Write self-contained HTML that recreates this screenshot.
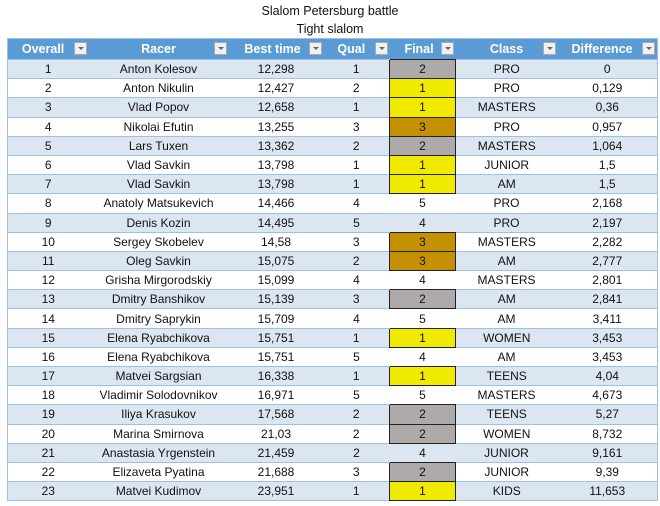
<!DOCTYPE html>
<html><head><meta charset="utf-8"><style>
body{margin:0;width:660px;height:506px;background:#fff;font-family:"Liberation Sans",sans-serif;font-size:12px;color:#111;position:relative;overflow:hidden}
.t{position:absolute;left:0;width:660px;text-align:center;font-size:12.5px}
table{position:absolute;left:7px;top:38px;border-collapse:collapse;table-layout:fixed;width:650px;border:1px solid #9bc2e6}
td,th{padding:0;text-align:center;white-space:nowrap;overflow:hidden}
th{background:#5b9bd5;color:#fff;font-weight:bold;height:20px;font-size:12.5px;position:relative}
th span.d{position:absolute;right:2px;top:3px;width:13px;height:13px;background:#f0f0f0;border:1px solid #aaa;box-sizing:border-box}
th span.d:after{content:"";position:absolute;left:3px;top:4px;border-left:3px solid transparent;border-right:3px solid transparent;border-top:3px solid #666}
td{height:19.2px;line-height:18px;border-top:1px solid #9bc2e6;box-sizing:border-box}
tr:nth-child(even) td{background:#dce6f1}
td.y{background:#f0e900!important;border:1px solid #222}
td.g{background:#aeaaaa!important;border:1px solid #222}
td.b{background:#c49102!important;border:1px solid #222}
</style></head><body>
<div class="t" style="top:4px">Slalom Petersburg battle</div>
<div class="t" style="top:22px">Tight slalom</div>
<table>
<colgroup><col style="width:81px"><col style="width:140px"><col style="width:95px"><col style="width:66px"><col style="width:66px"><col style="width:102px"><col style="width:100px"></colgroup>
<tr><th>Overall&nbsp;&nbsp;&nbsp;<span class="d"></span></th><th>Racer<span class="d"></span></th><th>Best time&nbsp;&nbsp;<span class="d"></span></th><th>Qual&nbsp;&nbsp;&nbsp;<span class="d"></span></th><th>Final&nbsp;&nbsp;<span class="d"></span></th><th>Class<span class="d"></span></th><th>Difference&nbsp;&nbsp;&nbsp;<span class="d"></span></th></tr>
<tr><td>1</td><td>Anton Kolesov</td><td>12,298</td><td>1</td><td class="g">2</td><td>PRO</td><td>0</td></tr>
<tr><td>2</td><td>Anton Nikulin</td><td>12,427</td><td>2</td><td class="y">1</td><td>PRO</td><td>0,129</td></tr>
<tr><td>3</td><td>Vlad Popov</td><td>12,658</td><td>1</td><td class="y">1</td><td>MASTERS</td><td>0,36</td></tr>
<tr><td>4</td><td>Nikolai Efutin</td><td>13,255</td><td>3</td><td class="b">3</td><td>PRO</td><td>0,957</td></tr>
<tr><td>5</td><td>Lars Tuxen</td><td>13,362</td><td>2</td><td class="g">2</td><td>MASTERS</td><td>1,064</td></tr>
<tr><td>6</td><td>Vlad Savkin</td><td>13,798</td><td>1</td><td class="y">1</td><td>JUNIOR</td><td>1,5</td></tr>
<tr><td>7</td><td>Vlad Savkin</td><td>13,798</td><td>1</td><td class="y">1</td><td>AM</td><td>1,5</td></tr>
<tr><td>8</td><td>Anatoly Matsukevich</td><td>14,466</td><td>4</td><td>5</td><td>PRO</td><td>2,168</td></tr>
<tr><td>9</td><td>Denis Kozin</td><td>14,495</td><td>5</td><td>4</td><td>PRO</td><td>2,197</td></tr>
<tr><td>10</td><td>Sergey Skobelev</td><td>14,58</td><td>3</td><td class="b">3</td><td>MASTERS</td><td>2,282</td></tr>
<tr><td>11</td><td>Oleg Savkin</td><td>15,075</td><td>2</td><td class="b">3</td><td>AM</td><td>2,777</td></tr>
<tr><td>12</td><td>Grisha Mirgorodskiy</td><td>15,099</td><td>4</td><td>4</td><td>MASTERS</td><td>2,801</td></tr>
<tr><td>13</td><td>Dmitry Banshikov</td><td>15,139</td><td>3</td><td class="g">2</td><td>AM</td><td>2,841</td></tr>
<tr><td>14</td><td>Dmitry Saprykin</td><td>15,709</td><td>4</td><td>5</td><td>AM</td><td>3,411</td></tr>
<tr><td>15</td><td>Elena Ryabchikova</td><td>15,751</td><td>1</td><td class="y">1</td><td>WOMEN</td><td>3,453</td></tr>
<tr><td>16</td><td>Elena Ryabchikova</td><td>15,751</td><td>5</td><td>4</td><td>AM</td><td>3,453</td></tr>
<tr><td>17</td><td>Matvei Sargsian</td><td>16,338</td><td>1</td><td class="y">1</td><td>TEENS</td><td>4,04</td></tr>
<tr><td>18</td><td>Vladimir Solodovnikov</td><td>16,971</td><td>5</td><td>5</td><td>MASTERS</td><td>4,673</td></tr>
<tr><td>19</td><td>Iliya Krasukov</td><td>17,568</td><td>2</td><td class="g">2</td><td>TEENS</td><td>5,27</td></tr>
<tr><td>20</td><td>Marina Smirnova</td><td>21,03</td><td>2</td><td class="g">2</td><td>WOMEN</td><td>8,732</td></tr>
<tr><td>21</td><td>Anastasia Yrgenstein</td><td>21,459</td><td>2</td><td>4</td><td>JUNIOR</td><td>9,161</td></tr>
<tr><td>22</td><td>Elizaveta Pyatina</td><td>21,688</td><td>3</td><td class="g">2</td><td>JUNIOR</td><td>9,39</td></tr>
<tr><td>23</td><td>Matvei Kudimov</td><td>23,951</td><td>1</td><td class="y">1</td><td>KIDS</td><td>11,653</td></tr>
</table>
</body></html>
